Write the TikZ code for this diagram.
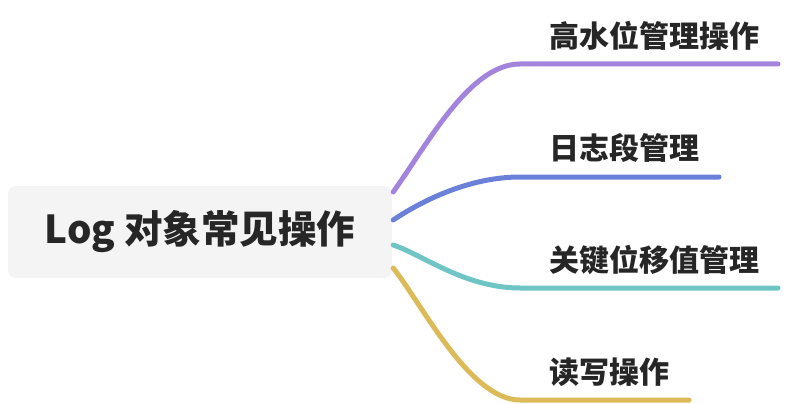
\documentclass[tikz,border=0pt]{standalone}
\usepackage{fontspec}
\setmainfont{Noto Sans CJK SC}
\usetikzlibrary{calc}
\definecolor{rootgray}{HTML}{F4F4F5}
\definecolor{textdark}{HTML}{262626}
\definecolor{mmpurple}{HTML}{A384DD}
\definecolor{mmblue}{HTML}{6B80D8}
\definecolor{mmteal}{HTML}{6EC5C4}
\definecolor{mmgold}{HTML}{DDBA58}

\begin{document}
\begin{tikzpicture}[
    x=1pt, y=-1pt,
    root/.style={rectangle, rounded corners=8pt, fill=rootgray,
                 minimum width=384pt, minimum height=92pt, inner sep=0pt,
                 text=textdark, font=\fontsize{38.5}{46}\selectfont\bfseries},
    leaf/.style={anchor=west, inner sep=0pt, text=textdark,
                 font=\fontsize{30}{36}\selectfont\bfseries},
    branch/.style={line width=5pt, line cap=round, #1},
]
    \useasboundingbox (0,0) rectangle (787,404);

    % Root
    \node[root] (root) at (200,232) {Log 对象常见操作};

    % Leaves
    \node[leaf] (hw)   at (549,36)  {高水位管理操作};
    \node[leaf] (seg)  at (549,148) {日志段管理};
    \node[leaf] (off)  at (549,260) {关键位移值管理};
    \node[leaf] (rw)   at (549,372) {读写操作};

    % Underline ends
    \coordinate (hw-in)   at (520,64);  \coordinate (hw-out)   at (778,64);
    \coordinate (seg-in)  at (520,177); \coordinate (seg-out)  at (719,177);
    \coordinate (off-in)  at (520,288); \coordinate (off-out)  at (778,288);
    \coordinate (rw-in)   at (520,400); \coordinate (rw-out)   at (689,400);

    % Branches
    \draw[branch=mmpurple] ($(root.east)+(1,-40)$)
        .. controls +(35,-49) and +(-50,0) .. (hw-in) -- (hw-out);
    \draw[branch=mmblue] ($(root.east)+(1,-12)$)
        .. controls +(30,-20) and +(-50,0) .. (seg-in) -- (seg-out);
    \draw[branch=mmteal] ($(root.east)+(1,13)$)
        .. controls +(30,10) and +(-55,0) .. (off-in) -- (off-out);
    \draw[branch=mmgold] ($(root.east)+(1,36)$)
        .. controls +(30,38) and +(-50,0) .. (rw-in) -- (rw-out);
\end{tikzpicture}
\end{document}
